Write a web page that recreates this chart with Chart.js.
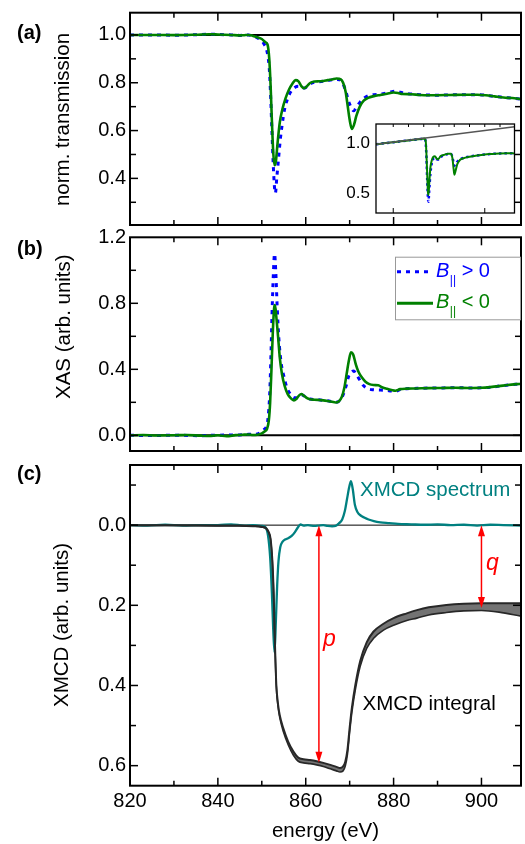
<!DOCTYPE html>
<html>
<head>
<meta charset="utf-8">
<script src="https://cdn.jsdelivr.net/npm/chart.js@4.4.1/dist/chart.umd.min.js"></script>
<style>
  html, body { margin: 0; padding: 0; background: #fff; }
  #wrap { position: relative; width: 525px; height: 844px; overflow: hidden; }
  canvas { position: absolute; left: 0; }
</style>
</head>
<body>
<div id="wrap">
  <canvas id="panelA" width="525" height="226" style="top:0"></canvas>
  <canvas id="inset" width="180" height="110" style="top:110px;left:340px"></canvas>
  <canvas id="panelB" width="525" height="230" style="top:226px"></canvas>
  <canvas id="panelC" width="525" height="388" style="top:456px"></canvas>
</div>
<script>
const FONT = '"Liberation Sans", Arial, sans-serif';

// ---- (a) normalised transmission ----
const aGreenE = [820, 825, 830, 835, 838, 840, 843, 845, 846, 847, 848, 849, 850, 850.8, 851.3, 851.7, 852.0, 852.3, 852.6, 852.9, 853.2, 853.6, 854.1, 854.7, 855.4, 856.2, 857.0, 857.7, 858.3, 859.0, 859.6, 860.2, 861.0, 862, 863, 864, 865, 866, 867, 867.6, 868.2, 868.7, 869.1, 869.5, 870.0, 870.5, 871.0, 871.5, 872.3, 873.2, 874.2, 875.5, 877, 878.5, 880, 881, 882, 884, 886, 888, 890, 893, 896, 899, 901, 903, 905, 907, 909];
const aGreen = [1.000, 1.000, 0.999, 1.001, 1.003, 1.002, 1.000, 0.998, 0.999, 1.000, 0.996, 0.990, 0.983, 0.970, 0.960, 0.90, 0.79, 0.64, 0.51, 0.455, 0.47, 0.55, 0.635, 0.69, 0.735, 0.772, 0.797, 0.811, 0.807, 0.786, 0.777, 0.784, 0.799, 0.805, 0.806, 0.807, 0.811, 0.814, 0.818, 0.817, 0.81, 0.79, 0.76, 0.71, 0.645, 0.607, 0.625, 0.66, 0.70, 0.725, 0.737, 0.744, 0.749, 0.754, 0.759, 0.757, 0.753, 0.752, 0.749, 0.748, 0.748, 0.749, 0.750, 0.750, 0.748, 0.743, 0.738, 0.736, 0.732];
const aBlueE = [820, 825, 830, 835, 838, 840, 843, 845, 847, 848, 849, 849.8, 850.5, 851.2, 851.7, 852.0, 852.3, 852.6, 852.9, 853.1, 853.4, 853.8, 854.2, 854.6, 855.2, 855.9, 856.7, 857.5, 858.3, 859.2, 859.8, 860.6, 861.5, 863, 865, 867, 867.8, 868.5, 869.2, 869.8, 870.4, 870.9, 871.6, 872.4, 873.2, 874.2, 875.5, 877, 879, 880.4, 881.5, 883, 886, 890, 895, 899, 903, 906, 909];
const aBlue = [1.000, 1.000, 0.999, 1.001, 1.003, 1.002, 1.000, 0.998, 1.000, 0.995, 0.988, 0.978, 0.962, 0.93, 0.86, 0.75, 0.60, 0.46, 0.36, 0.338, 0.40, 0.48, 0.56, 0.62, 0.69, 0.735, 0.765, 0.78, 0.785, 0.779, 0.778, 0.79, 0.80, 0.804, 0.809, 0.814, 0.812, 0.795, 0.76, 0.72, 0.695, 0.683, 0.70, 0.72, 0.735, 0.746, 0.750, 0.752, 0.760, 0.765, 0.760, 0.755, 0.750, 0.748, 0.750, 0.750, 0.743, 0.737, 0.732];

// ---- inset: raw transmission with background line ----
const insetE = [818.7, 825, 830, 835, 840, 845, 848, 850.5, 851.3, 851.8, 852.3, 852.8, 853.1, 853.6, 854.4, 855.3, 856.3, 857.3, 858.5, 859.5, 861, 863, 866, 867.8, 868.8, 869.6, 870.1, 870.8, 872, 873.7, 876, 880, 885, 890, 895, 900, 905, 909.5];
const insetGreen = [0.989, 1.001, 1.010, 1.019, 1.028, 1.037, 1.042, 1.046, 1.02, 0.88, 0.68, 0.50, 0.48, 0.60, 0.76, 0.83, 0.865, 0.87, 0.845, 0.84, 0.87, 0.882, 0.895, 0.895, 0.85, 0.74, 0.685, 0.72, 0.79, 0.832, 0.85, 0.865, 0.878, 0.888, 0.893, 0.898, 0.900, 0.898];
const insetBlue = [0.989, 1.001, 1.010, 1.019, 1.028, 1.037, 1.042, 1.044, 1.00, 0.85, 0.62, 0.44, 0.415, 0.53, 0.70, 0.80, 0.845, 0.855, 0.84, 0.836, 0.862, 0.878, 0.892, 0.893, 0.862, 0.80, 0.775, 0.785, 0.815, 0.838, 0.853, 0.867, 0.878, 0.888, 0.893, 0.898, 0.900, 0.898];
const insetBaseE = [818.7, 909.5];
const insetBase = [0.989, 1.165];

// ---- (b) XAS ----
const bGreenE = [820, 823, 826, 830, 833, 836, 838, 840, 842, 844, 846, 847, 848, 849, 850, 850.7, 851.2, 851.6, 851.9, 852.2, 852.5, 852.8, 853.0, 853.3, 853.7, 854.1, 854.6, 855.2, 855.9, 856.6, 857.3, 857.9, 858.5, 859.0, 859.6, 860.3, 861, 862, 863, 864, 865, 866, 866.8, 867.5, 868.2, 868.8, 869.3, 869.8, 870.3, 870.8, 871.4, 872, 872.8, 873.6, 874.5, 875.5, 876.5, 877.5, 878.5, 879.5, 880.4, 881.5, 883, 885, 888, 891, 894, 897, 900, 902, 904, 906, 908, 909];
const bGreen = [0.000, 0.002, -0.001, 0.000, 0.002, -0.002, -0.004, 0.000, -0.005, 0.001, 0.004, 0.005, 0.002, 0.004, 0.012, 0.025, 0.04, 0.09, 0.20, 0.40, 0.62, 0.77, 0.79, 0.72, 0.60, 0.47, 0.37, 0.30, 0.25, 0.225, 0.212, 0.222, 0.242, 0.25, 0.24, 0.225, 0.218, 0.216, 0.214, 0.212, 0.208, 0.203, 0.199, 0.205, 0.232, 0.29, 0.37, 0.45, 0.503, 0.49, 0.43, 0.385, 0.35, 0.325, 0.31, 0.305, 0.303, 0.29, 0.282, 0.275, 0.27, 0.28, 0.283, 0.284, 0.286, 0.287, 0.288, 0.287, 0.288, 0.292, 0.298, 0.305, 0.31, 0.312];
const bBlueE = [820, 826, 830, 836, 840, 844, 847, 849, 849.8, 850.5, 851.0, 851.4, 851.8, 852.1, 852.4, 852.7, 852.9, 853.2, 853.5, 853.9, 854.4, 855.0, 855.7, 856.5, 857.3, 858.0, 858.6, 859.2, 860.0, 861, 863, 865, 866.8, 867.8, 868.5, 869.2, 869.8, 870.3, 870.9, 871.5, 872.3, 873.2, 874.2, 875.5, 877, 878.5, 880.4, 881.5, 883, 886, 890, 894, 898, 902, 905, 909];
const bBlue = [0.000, -0.001, 0.001, -0.002, 0.001, 0.002, 0.006, 0.008, 0.02, 0.035, 0.05, 0.10, 0.25, 0.50, 0.80, 1.02, 1.10, 0.98, 0.78, 0.58, 0.44, 0.36, 0.29, 0.25, 0.228, 0.228, 0.24, 0.245, 0.232, 0.22, 0.215, 0.209, 0.200, 0.212, 0.245, 0.30, 0.36, 0.38, 0.39, 0.37, 0.335, 0.30, 0.282, 0.276, 0.274, 0.272, 0.266, 0.277, 0.282, 0.285, 0.287, 0.288, 0.287, 0.291, 0.302, 0.312];

// ---- (c) XMCD spectrum and integral (axis runs downwards) ----
const cSpecE = [820, 824, 828, 832, 836, 840, 843, 846, 848, 850, 850.8, 851.4, 851.9, 852.3, 852.6, 852.9, 853.2, 853.5, 853.8, 854.2, 854.7, 855.3, 856, 856.8, 857.5, 858.2, 858.8, 859.5, 860.5, 862, 863, 864, 865, 866, 866.8, 867.5, 868.3, 868.9, 869.4, 869.9, 870.3, 870.7, 871.2, 871.8, 872.5, 873.3, 874.3, 875.5, 877, 879, 881, 884, 887, 890, 893, 896, 899, 902, 905, 909];
const cSpec = [0.000, 0.001, -0.001, 0.001, 0.000, 0.000, -0.002, 0.001, 0.000, 0.002, 0.005, 0.025, 0.08, 0.17, 0.26, 0.318, 0.24, 0.15, 0.09, 0.055, 0.042, 0.036, 0.033, 0.027, 0.018, 0.006, -0.002, 0.001, 0.000, 0.002, 0.001, 0.000, 0.002, 0.003, 0.002, -0.004, -0.014, -0.035, -0.065, -0.095, -0.110, -0.09, -0.05, -0.032, -0.024, -0.019, -0.014, -0.010, -0.007, -0.005, -0.003, -0.002, -0.001, -0.002, 0.000, -0.001, 0.001, -0.001, 0.000, 0.001];
const cIntE = [820, 830, 840, 845, 848, 850, 851, 851.6, 852.0, 852.4, 852.7, 853.0, 853.3, 853.7, 854.1, 854.9, 856.0, 857.2, 858.3, 859.5, 861, 862.5, 864, 865.6, 867, 867.8, 868.5, 869.0, 869.5, 870.0, 870.5, 871.3, 872.4, 873.9, 875.4, 877.7, 880, 883, 885.3, 888, 892, 896, 900, 904, 909];
const cIntUpper = [0, 0, 0.001, 0.001, 0.002, 0.004, 0.008, 0.018, 0.034, 0.088, 0.168, 0.297, 0.397, 0.447, 0.475, 0.507, 0.540, 0.565, 0.580, 0.584, 0.586, 0.589, 0.593, 0.598, 0.603, 0.606, 0.602, 0.590, 0.560, 0.505, 0.456, 0.398, 0.339, 0.292, 0.266, 0.246, 0.232, 0.220, 0.212, 0.205, 0.199, 0.196, 0.195, 0.195, 0.195];
const cIntLower = [0.001, 0.001, 0.002, 0.002, 0.003, 0.005, 0.009, 0.019, 0.037, 0.092, 0.172, 0.303, 0.403, 0.453, 0.481, 0.515, 0.548, 0.574, 0.589, 0.593, 0.595, 0.598, 0.602, 0.608, 0.613, 0.616, 0.613, 0.601, 0.571, 0.516, 0.467, 0.410, 0.352, 0.307, 0.283, 0.262, 0.250, 0.238, 0.232, 0.224, 0.218, 0.214, 0.213, 0.217, 0.227];
const arrowE = [863, 900];
const arrowTo = [0.593, 0.207];

// ---- ticks ----
const xTicks = [820, 840, 860, 880, 900];
const xMinor = [830, 850, 870, 890];
const yTicksA = [0.4, 0.6, 0.8, 1.0];
const yMinorA = [0.3, 0.5, 0.7, 0.9];
const yTicksB = [0.0, 0.4, 0.8, 1.2];
const yMinorB = [0.2, 0.6, 1.0];
const yTicksC = [0.0, 0.2, 0.4, 0.6];
const yMinorC = [-0.1, 0.1, 0.3, 0.5];
const yTicksInset = [0.5, 1.0];
const xMinorInset = [830, 840, 850, 860, 870, 880, 890, 900];
const xMajorInset = [830, 890];

const GREEN = 'rgb(0,128,0)', BLUE = 'rgb(0,0,255)', TEAL = 'rgb(0,128,128)';

Chart.defaults.font.family = FONT;
Chart.defaults.color = '#000';

const pts = (xs, ys) => xs.map((x, i) => ({ x, y: ys[i] }));

function line(data, color, width, dash) {
  return {
    data, borderColor: color, borderWidth: width, borderDash: dash || [],
    pointRadius: 0, fill: false, cubicInterpolationMode: 'monotone', borderCapStyle: 'butt'
  };
}

function yScale(min, max, ticks, width, opts) {
  opts = opts || {};
  return {
    type: 'linear', min, max, reverse: !!opts.reverse,
    grid: { display: false, drawTicks: false }, border: { display: false },
    afterBuildTicks: s => { s.ticks = ticks.map(v => ({ value: v })); },
    afterFit: s => { s.width = width; s.paddingTop = 0; s.paddingBottom = 0; },
    ticks: { padding: opts.pad || 4, font: { size: opts.size || 20 }, color: '#000', callback: v => v.toFixed(1) }
  };
}

function drawB(ctx, x, y, rest, color) {
  ctx.fillStyle = color;
  ctx.textAlign = 'left';
  ctx.textBaseline = 'alphabetic';
  ctx.font = 'italic 20px ' + FONT;
  ctx.fillText('B', x, y);
  let w = ctx.measureText('B').width;
  ctx.font = '12px ' + FONT;
  ctx.fillText('||', x + w + 0.5, y + 7);
  w += ctx.measureText('||').width + 0.5;
  ctx.font = '20px ' + FONT;
  ctx.fillText(rest, x + w, y);
}

const decor = {
  id: 'decor',
  beforeDraw(chart, args, o) {
    if (!o.white) return;
    const { ctx, chartArea: a } = chart;
    ctx.save();
    ctx.fillStyle = '#fff';
    ctx.fillRect(a.left, a.top, a.right - a.left, a.bottom - a.top);
    ctx.restore();
  },
  beforeDatasetsDraw(chart, args, o) {
    if (o.refY === undefined) return;
    const { ctx, chartArea: a, scales: { y } } = chart;
    const py = y.getPixelForValue(o.refY);
    ctx.save();
    ctx.strokeStyle = '#000';
    ctx.lineWidth = o.refWidth || 1;
    ctx.beginPath(); ctx.moveTo(a.left, py); ctx.lineTo(a.right, py); ctx.stroke();
    ctx.restore();
  },
  afterDraw(chart, args, o) {
    const { ctx, chartArea: a, scales: { x, y } } = chart;
    ctx.save();
    ctx.strokeStyle = '#000';
    ctx.lineWidth = o.frameWidth || 2;
    ctx.strokeRect(a.left, a.top, a.right - a.left, a.bottom - a.top);

    ctx.lineWidth = o.tickWidth || 1.5;
    const seg = (x0, y0, x1, y1) => { ctx.beginPath(); ctx.moveTo(x0, y0); ctx.lineTo(x1, y1); ctx.stroke(); };
    (o.ticks || []).forEach(t => {
      t.values.forEach(v => {
        if (t.axis === 'x') {
          const px = x.getPixelForValue(v);
          if (px <= a.left + 1 || px >= a.right - 1) return;
          if (t.sides.includes('top')) seg(px, a.top, px, a.top + t.len);
          if (t.sides.includes('bottom')) seg(px, a.bottom, px, a.bottom - t.len);
        } else {
          const py = y.getPixelForValue(v);
          if (py <= a.top + 1 || py >= a.bottom - 1) return;
          if (t.sides.includes('left')) seg(a.left, py, a.left + t.len, py);
          if (t.sides.includes('right')) seg(a.right, py, a.right - t.len, py);
        }
      });
    });

    if (o.arrows) {
      ctx.strokeStyle = 'rgb(255,0,0)';
      ctx.fillStyle = 'rgb(255,0,0)';
      ctx.lineWidth = 1.5;
      const head = (px, tip, dir) => {
        ctx.beginPath();
        ctx.moveTo(px, tip);
        ctx.lineTo(px - 3.5, tip + dir * 11);
        ctx.lineTo(px + 3.5, tip + dir * 11);
        ctx.closePath(); ctx.fill();
      };
      o.arrows.E.forEach((e, i) => {
        const px = x.getPixelForValue(e);
        const y0 = y.getPixelForValue(0), y1 = y.getPixelForValue(o.arrows.to[i]);
        seg(px, y0 + 6, px, y1 - 6);
        head(px, y0, 1);
        head(px, y1, -1);
      });
    }

    (o.texts || []).forEach(t => {
      ctx.save();
      ctx.fillStyle = t.color || '#000';
      ctx.font = t.font;
      ctx.textAlign = t.align || 'left';
      ctx.textBaseline = t.base || 'alphabetic';
      ctx.translate(t.x, t.y);
      if (t.rot) ctx.rotate(-Math.PI / 2);
      ctx.fillText(t.t, 0, 0);
      ctx.restore();
    });

    if (o.legend) {
      const L = o.legend;
      ctx.fillStyle = '#fff';
      ctx.fillRect(L.left, L.top, L.right - L.left, L.bottom - L.top);
      ctx.strokeStyle = '#999';
      ctx.lineWidth = 1;
      ctx.strokeRect(L.left + 0.5, L.top + 0.5, L.right - L.left, L.bottom - L.top);
      ctx.lineWidth = 3;
      ctx.strokeStyle = BLUE;
      ctx.setLineDash([4, 5]);
      seg(L.left + 2, L.y1, L.left + 38, L.y1);
      ctx.setLineDash([]);
      ctx.strokeStyle = GREEN;
      seg(L.left + 2, L.y2, L.left + 38, L.y2);
      drawB(ctx, L.left + 41, L.y1 + 5, ' > 0', BLUE);
      drawB(ctx, L.left + 41, L.y2 + 5, ' < 0', GREEN);
    }
    ctx.restore();
  }
};

const xTickSpec = [
  { axis: 'x', values: xTicks, len: 8, sides: ['top', 'bottom'] },
  { axis: 'x', values: xMinor, len: 5, sides: ['top', 'bottom'] }
];
const bold = 'bold 20px ' + FONT;
const titleFont = '20.5px ' + FONT;

function baseOptions(pad, yScaleCfg, decorOpts, xRange) {
  return {
    responsive: false, animation: false, devicePixelRatio: 1,
    layout: { padding: pad },
    plugins: { legend: { display: false }, tooltip: { enabled: false }, decor: decorOpts },
    scales: {
      x: {
        type: 'linear', min: xRange[0], max: xRange[1], display: false,
        grid: { display: false, drawTicks: false }, border: { display: false }
      },
      y: yScaleCfg
    }
  };
}

// panel (a)
new Chart(document.getElementById('panelA'), {
  type: 'line',
  data: { datasets: [
    line(pts(aGreenE, aGreen), GREEN, 2.6),
    line(pts(aBlueE, aBlue), BLUE, 3, [4, 5])
  ] },
  options: baseOptions({ left: 0, top: 12.7, right: 4, bottom: 1 },
    yScale(0.205, 1.093, yTicksA, 130),
    {
      refY: 1.0, refWidth: 2,
      ticks: xTickSpec.concat([
        { axis: 'y', values: yTicksA, len: 8, sides: ['left', 'right'] },
        { axis: 'y', values: yMinorA, len: 6, sides: ['left', 'right'] }
      ]),
      texts: [
        { t: '(a)', x: 17, y: 33, font: bold, base: 'middle' },
        { t: 'norm. transmission', x: 63, y: 119.5, font: titleFont, align: 'center', base: 'middle', rot: true }
      ]
    }, [820, 909]),
  plugins: [decor]
});

// inset
new Chart(document.getElementById('inset'), {
  type: 'line',
  data: { datasets: [
    line(pts(insetBaseE, insetBase), 'rgb(85,85,85)', 1.6),
    line(pts(insetE, insetGreen), GREEN, 2),
    line(pts(insetE, insetBlue), BLUE, 2.5, [2.5, 3])
  ] },
  options: baseOptions({ left: 0, top: 14, right: 5.5, bottom: 7 },
    yScale(0.302, 1.192, yTicksInset, 36, { size: 17, pad: 6 }),
    {
      white: true, frameWidth: 1.3, tickWidth: 1,
      ticks: [
        { axis: 'x', values: xMinorInset, len: 3, sides: ['top'] },
        { axis: 'x', values: xMajorInset, len: 5, sides: ['bottom'] }
      ]
    }, [818.7, 909.5]),
  plugins: [decor]
});

// panel (b)
new Chart(document.getElementById('panelB'), {
  type: 'line',
  data: { datasets: [
    line(pts(bGreenE, bGreen), GREEN, 2.6),
    line(pts(bBlueE, bBlue), BLUE, 3, [4, 5])
  ] },
  options: baseOptions({ left: 0, top: 11.3, right: 4, bottom: 5 },
    yScale(-0.095, 1.2, yTicksB, 130),
    {
      refY: 0, refWidth: 2,
      ticks: xTickSpec.concat([
        { axis: 'y', values: yTicksB, len: 8, sides: ['left', 'right'] },
        { axis: 'y', values: yMinorB, len: 6, sides: ['left', 'right'] }
      ]),
      texts: [
        { t: '(b)', x: 17, y: 23, font: bold, base: 'middle' },
        { t: 'XAS (arb. units)', x: 64, y: 100.7, font: titleFont, align: 'center', base: 'middle', rot: true }
      ],
      legend: { left: 395, top: 30.7, right: 520, bottom: 93.3, y1: 45.7, y2: 77.3 }
    }, [820, 909]),
  plugins: [decor]
});

// panel (c)
const optsC = baseOptions({ left: 0, top: 9, right: 4, bottom: 0 },
  yScale(-0.15, 0.65, yTicksC, 130, { reverse: true }),
  {
    refY: 0, refWidth: 1,
    ticks: xTickSpec.concat([
      { axis: 'y', values: yTicksC, len: 8, sides: ['left', 'right'] },
      { axis: 'y', values: yMinorC, len: 6, sides: ['left', 'right'] }
    ]),
    arrows: { E: arrowE, to: arrowTo },
    texts: [
      { t: '(c)', x: 17, y: 18, font: bold, base: 'middle' },
      { t: 'XMCD (arb. units)', x: 62, y: 169, font: titleFont, align: 'center', base: 'middle', rot: true },
      { t: 'XMCD spectrum', x: 360, y: 40, font: titleFont, color: TEAL },
      { t: 'XMCD integral', x: 362.5, y: 254, font: titleFont },
      { t: 'p', x: 323, y: 190, font: 'italic 23px ' + FONT, color: 'rgb(255,0,0)' },
      { t: 'q', x: 486, y: 114, font: 'italic 23px ' + FONT, color: 'rgb(255,0,0)' }
    ]
  }, [820, 909]);
optsC.scales.x = {
  type: 'linear', min: 820, max: 909,
  grid: { display: false, drawTicks: false }, border: { display: false },
  afterBuildTicks: s => { s.ticks = xTicks.map(v => ({ value: v })); },
  afterFit: s => { s.height = 58.3; s.paddingLeft = 0; s.paddingRight = 0; },
  ticks: { padding: 4, font: { size: 20 }, color: '#000', maxRotation: 0, autoSkip: false, callback: v => String(v) },
  title: { display: true, text: 'energy (eV)', font: { size: 20.5 }, color: '#000', padding: { top: 0, bottom: 0 } }
};

// integral band: edges dark, gray fill between them; drawn above the spectrum
const upperSet = line(pts(cIntE, cIntUpper), 'rgb(40,40,40)', 2);
const lowerSet = line(pts(cIntE, cIntLower), 'rgb(40,40,40)', 1.6);
lowerSet.fill = '-1';
lowerSet.backgroundColor = 'rgb(115,115,115)';

new Chart(document.getElementById('panelC'), {
  type: 'line',
  data: { datasets: [
    upperSet,
    lowerSet,
    line(pts(cSpecE, cSpec), TEAL, 2.3)
  ] },
  options: optsC,
  plugins: [decor]
});
</script>
</body>
</html>
